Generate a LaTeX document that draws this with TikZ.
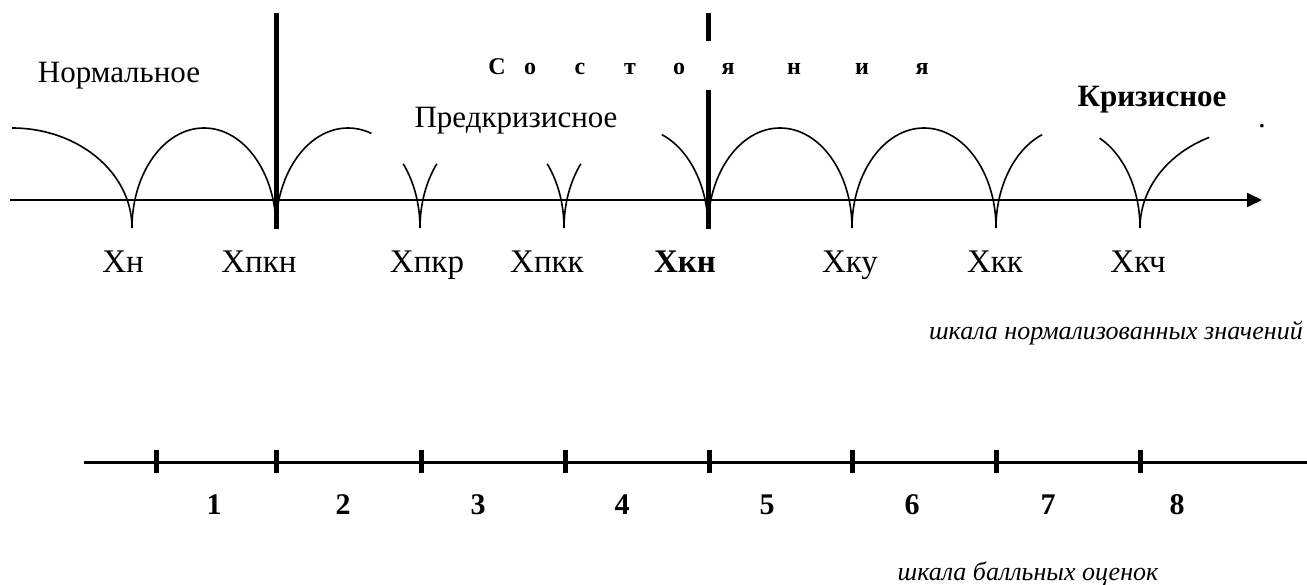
\documentclass[tikz,border=0pt]{standalone}
\usepackage{fontspec}
\setmainfont{Liberation Serif}
\usetikzlibrary{arrows.meta}
\tikzset{
  txt/.style={inner sep=0, anchor=base, font=\fontsize{31}{36}\selectfont},
  btxt/.style={txt, font=\fontsize{31}{36}\selectfont\bfseries},
  xtxt/.style={txt, font=\fontsize{33}{38}\selectfont},
  sp/.style={inner sep=0, anchor=base, font=\fontsize{24}{28}\selectfont\bfseries},
  itxt/.style={inner sep=0, anchor=base, font=\fontsize{26}{30}\selectfont\itshape},
  num/.style={inner sep=0, anchor=base, font=\fontsize{30}{34}\selectfont\bfseries},
  arcs/.style={line width=1.6pt},
  bar/.style={line width=5pt},
  tick/.style={line width=5pt}
}
\begin{document}
\begin{tikzpicture}[x=1pt,y=1pt]
  \useasboundingbox (0,0) rectangle (1307,584);
  \draw[line width=2pt,-{Triangle[length=15pt,width=14pt]}](10,384)--(1262,384);
  \draw[arcs](12,456) arc[start angle=90,end angle=0,x radius=120pt,y radius=100pt];
  \draw[arcs](1260,356)++(180:120pt and 100pt) arc[start angle=180,end angle=115,x radius=120pt,y radius=100pt];
  \foreach \c/\a/\b in {204/180/0,348/180/71,348/40/0,492/180/140,492/40/0,636/180/140,636/69/0,780/180/0,924/180/0,1068/180/111,1068/64/0}
    \draw[arcs](\c,356)++(\a:72pt and 100pt) arc[start angle=\a,end angle=\b,x radius=72pt,y radius=100pt];
  \draw[bar](276,571)--(276,355);
  \draw[bar](708,571)--(708,543);
  \draw[bar](708,494)--(708,355);
  \node[txt] (norm) at (119,501) {Нормальное};
  \node[txt] (pred) at (516,456) {Предкризисное};
  \node[btxt] (kriz) at (1152,477) {Кризисное};
  \node[txt] (dot) at (1262,456) {.};
  \foreach \x/\l [count=\i] in {497/С,530/о,580/с,630/т,679/о,728/я,794/н,862/и,922/я}
    \node[sp] (s\i) at (\x,509) {\l};
  \foreach \x/\t [count=\i] in {123/Хн,259/Хпкн,427/Хпкр,547/Хпкк,850/Хку,995/Хкк,1138/Хкч}
    \node[xtxt] (x\i) at (\x,311) {\t};
  \node[xtxt,font=\fontsize{33}{38}\selectfont\bfseries] (xkn) at (685,311) {Хкн};
  \node[itxt,anchor=base east] (norm scale) at (1303,244) {шкала нормализованных значений};
  \draw[line width=3pt](84,121)--(1307,121);
  \foreach \x in {156,276,421,565,709,852,996,1140}
    \draw[tick](\x,111)--(\x,134);
  \foreach \x [count=\i] in {214,343,478,622,767,912,1048,1177}
    \node[num] (b\i) at (\x,70) {\i};
  \node[itxt] (ball scale) at (1028,4) {шкала балльных оценок};
\end{tikzpicture}
\end{document}
